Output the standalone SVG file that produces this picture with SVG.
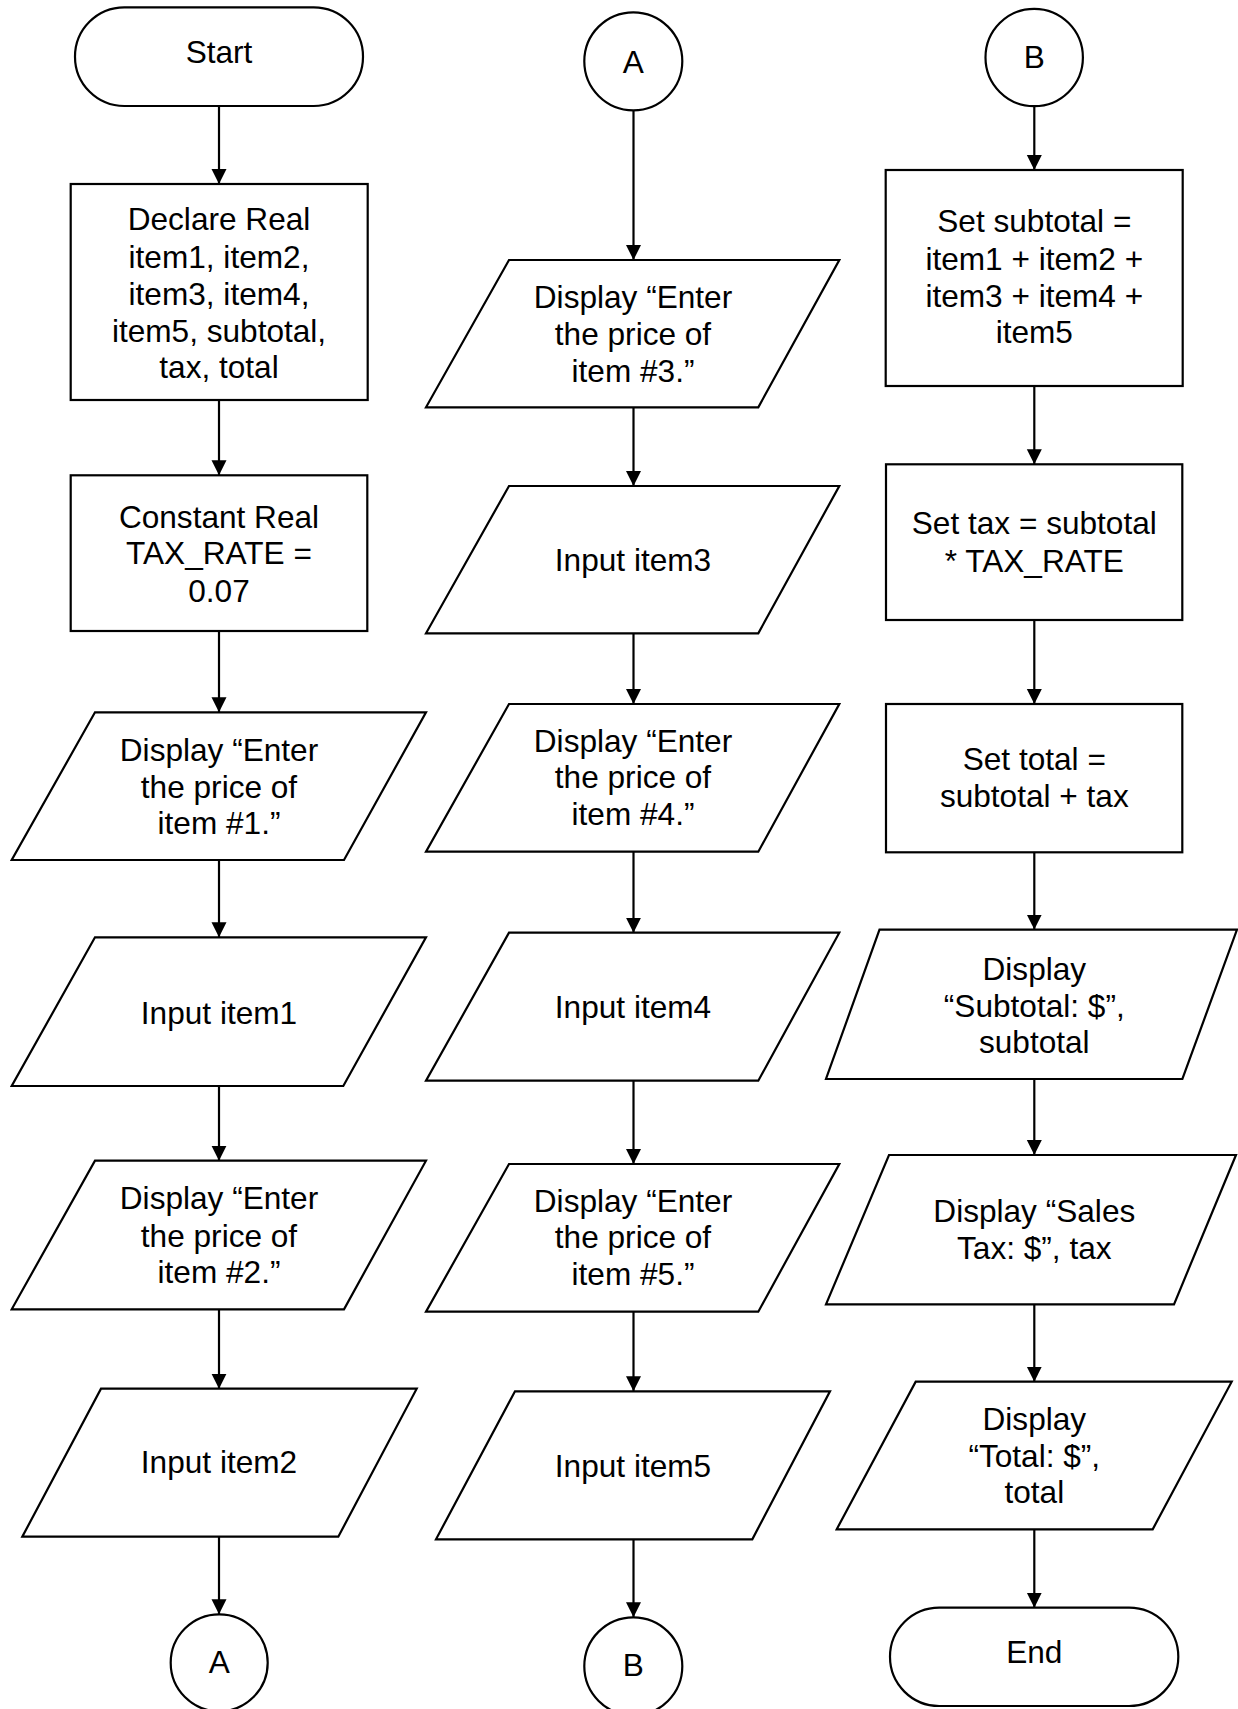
<svg xmlns="http://www.w3.org/2000/svg" width="1238" height="1709" viewBox="0 0 1238 1709">
<style>
.s{fill:#fff;stroke:#000;stroke-width:2.2}
.t{font-family:"Liberation Sans",Arial,sans-serif;font-size:31.6px;fill:#000;text-anchor:middle}
.c{stroke:#000;stroke-width:2.2;fill:none}
</style>
<defs>
<marker id="ah" markerUnits="userSpaceOnUse" markerWidth="16" markerHeight="16" viewBox="0 0 16 16" refX="15" refY="8" orient="auto">
<path d="M0,0.5 L15,8 L0,15.5 Z" fill="#000"/>
</marker>
</defs>
<rect width="1238" height="1709" fill="#fff"/>
<g id="connectors">
<line class="c" x1="219" y1="106" x2="219" y2="184" marker-end="url(#ah)"/>
<line class="c" x1="219" y1="400" x2="219" y2="475.3" marker-end="url(#ah)"/>
<line class="c" x1="219" y1="631" x2="219" y2="712.3" marker-end="url(#ah)"/>
<line class="c" x1="219" y1="860" x2="219" y2="937.3" marker-end="url(#ah)"/>
<line class="c" x1="219" y1="1086" x2="219" y2="1160.7" marker-end="url(#ah)"/>
<line class="c" x1="219" y1="1309.3" x2="219" y2="1388.7" marker-end="url(#ah)"/>
<line class="c" x1="219" y1="1536.7" x2="219" y2="1614.3" marker-end="url(#ah)"/>
<line class="c" x1="633.5" y1="110" x2="633.5" y2="260" marker-end="url(#ah)"/>
<line class="c" x1="633.5" y1="407.3" x2="633.5" y2="486" marker-end="url(#ah)"/>
<line class="c" x1="633.5" y1="633.3" x2="633.5" y2="704" marker-end="url(#ah)"/>
<line class="c" x1="633.5" y1="851.7" x2="633.5" y2="932.7" marker-end="url(#ah)"/>
<line class="c" x1="633.5" y1="1080.7" x2="633.5" y2="1164" marker-end="url(#ah)"/>
<line class="c" x1="633.5" y1="1311.7" x2="633.5" y2="1391.3" marker-end="url(#ah)"/>
<line class="c" x1="633.5" y1="1539.3" x2="633.5" y2="1617.3" marker-end="url(#ah)"/>
<line class="c" x1="1034.3" y1="106.7" x2="1034.3" y2="170" marker-end="url(#ah)"/>
<line class="c" x1="1034.3" y1="386" x2="1034.3" y2="464.3" marker-end="url(#ah)"/>
<line class="c" x1="1034.3" y1="620" x2="1034.3" y2="704" marker-end="url(#ah)"/>
<line class="c" x1="1034.3" y1="852.3" x2="1034.3" y2="929.6" marker-end="url(#ah)"/>
<line class="c" x1="1034.3" y1="1079" x2="1034.3" y2="1155" marker-end="url(#ah)"/>
<line class="c" x1="1034.3" y1="1304.3" x2="1034.3" y2="1381.7" marker-end="url(#ah)"/>
<line class="c" x1="1034.3" y1="1529.3" x2="1034.3" y2="1607.7" marker-end="url(#ah)"/>
</g>
<g id="start"><rect class="s" x="75" y="7.3" width="288" height="98.7" rx="49.3"/><text class="t" x="219" y="63.3">Start</text></g>
<g id="declare"><rect class="s" x="70.7" y="184" width="297" height="216"/>
<text class="t" x="219" y="230">Declare Real</text><text class="t" x="219" y="267.5">item1, item2,</text><text class="t" x="219" y="305">item3, item4,</text><text class="t" x="219" y="341.7">item5, subtotal,</text><text class="t" x="219" y="378.3">tax, total</text></g>
<g id="constant"><rect class="s" x="70.7" y="475.3" width="296.6" height="155.7"/>
<text class="t" x="219" y="527.7">Constant Real</text><text class="t" x="219" y="564.3">TAX_RATE =</text><text class="t" x="219" y="601.7">0.07</text></g>
<g id="display1"><polygon class="s" points="95,712.3 426,712.3 344,860 11.7,860"/>
<text class="t" x="219" y="761">Display “Enter</text><text class="t" x="219" y="798.3">the price of</text><text class="t" x="219" y="834">item #1.”</text></g>
<g id="input1"><polygon class="s" points="95,937.3 426,937.3 343.3,1086 11.7,1086"/>
<text class="t" x="219" y="1024">Input item1</text></g>
<g id="display2"><polygon class="s" points="95,1160.7 426,1160.7 344,1309.3 11.7,1309.3"/>
<text class="t" x="219" y="1209.3">Display “Enter</text><text class="t" x="219" y="1246.7">the price of</text><text class="t" x="219" y="1283.3">item #2.”</text></g>
<g id="input2"><polygon class="s" points="101,1388.7 416.7,1388.7 338.3,1536.7 22.3,1536.7"/>
<text class="t" x="219" y="1473.3">Input item2</text></g>
<g id="connA1"><circle class="s" cx="219.2" cy="1662.8" r="48.5"/><text class="t" x="219.2" y="1673.3">A</text></g>
<g id="connA2"><circle class="s" cx="633.3" cy="61.3" r="49"/><text class="t" x="633.3" y="72.7">A</text></g>
<g id="display3"><polygon class="s" points="509,260 839.3,260 758.3,407.3 426,407.3"/>
<text class="t" x="633" y="308.3">Display “Enter</text><text class="t" x="633" y="345">the price of</text><text class="t" x="633" y="381.7">item #3.”</text></g>
<g id="input3"><polygon class="s" points="509,486 839.3,486 758.3,633.3 426,633.3"/>
<text class="t" x="633" y="570.7">Input item3</text></g>
<g id="display4"><polygon class="s" points="509,704 839.3,704 758.3,851.7 426,851.7"/>
<text class="t" x="633" y="751.7">Display “Enter</text><text class="t" x="633" y="788.3">the price of</text><text class="t" x="633" y="825">item #4.”</text></g>
<g id="input4"><polygon class="s" points="509,932.7 839.3,932.7 758.3,1080.7 426,1080.7"/>
<text class="t" x="633" y="1018.3">Input item4</text></g>
<g id="display5"><polygon class="s" points="509,1164 839.3,1164 758.3,1311.7 426,1311.7"/>
<text class="t" x="633" y="1211.7">Display “Enter</text><text class="t" x="633" y="1248.3">the price of</text><text class="t" x="633" y="1285">item #5.”</text></g>
<g id="input5"><polygon class="s" points="515,1391.3 830,1391.3 752.3,1539.3 436,1539.3"/>
<text class="t" x="633" y="1476.7">Input item5</text></g>
<g id="connB1"><circle class="s" cx="633.3" cy="1666.3" r="49"/><text class="t" x="633.3" y="1676">B</text></g>
<g id="connB2"><circle class="s" cx="1034.2" cy="57.5" r="48.7"/><text class="t" x="1034.2" y="68.3">B</text></g>
<g id="subtotal"><rect class="s" x="885.7" y="170" width="297" height="216"/>
<text class="t" x="1034.3" y="232.3">Set subtotal =</text><text class="t" x="1034.3" y="270">item1 + item2 +</text><text class="t" x="1034.3" y="306.7">item3 + item4 +</text><text class="t" x="1034.3" y="343.3">item5</text></g>
<g id="settax"><rect class="s" x="886" y="464.3" width="296.3" height="155.7"/>
<text class="t" x="1034.3" y="534.3">Set tax = subtotal</text><text class="t" x="1034.3" y="571.7">* TAX_RATE</text></g>
<g id="settotal"><rect class="s" x="886" y="704" width="296.3" height="148.3"/>
<text class="t" x="1034.3" y="770">Set total =</text><text class="t" x="1034.3" y="807.3">subtotal + tax</text></g>
<g id="dispsubtotal"><polygon class="s" points="879.5,929.6 1237,929.6 1182.4,1079 826,1079"/>
<text class="t" x="1034.3" y="980">Display</text><text class="t" x="1034.3" y="1016.5">“Subtotal: $”,</text><text class="t" x="1034.3" y="1053">subtotal</text></g>
<g id="dispsales"><polygon class="s" points="889,1155 1236,1155 1174,1304.3 826,1304.3"/>
<text class="t" x="1034.3" y="1222">Display “Sales</text><text class="t" x="1034.3" y="1259">Tax: $”, tax</text></g>
<g id="disptotal"><polygon class="s" points="915.7,1381.7 1231.7,1381.7 1152.7,1529.3 836.7,1529.3"/>
<text class="t" x="1034.3" y="1430">Display</text><text class="t" x="1034.3" y="1466.7">“Total: $”,</text><text class="t" x="1034.3" y="1503.3">total</text></g>
<g id="end"><rect class="s" x="890" y="1607.7" width="288.3" height="98.3" rx="49.2"/><text class="t" x="1034.3" y="1662.7">End</text></g>
</svg>
